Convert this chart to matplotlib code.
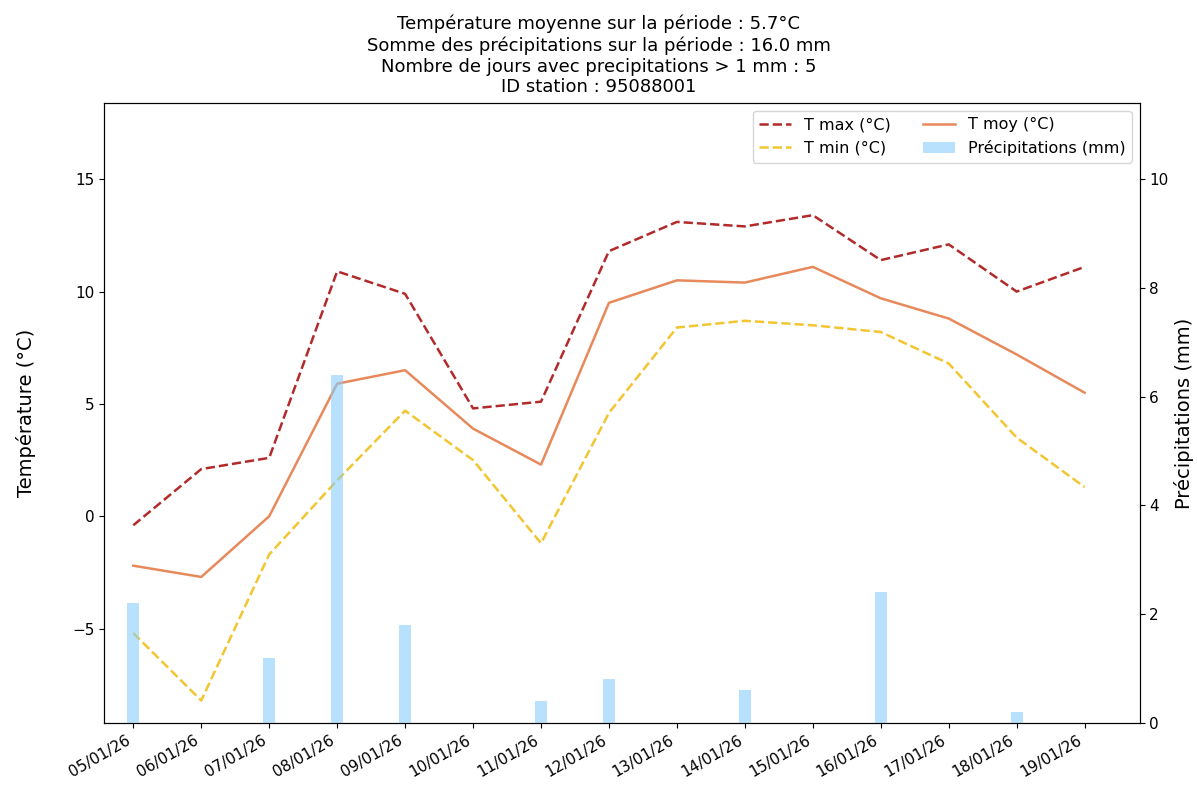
from datetime import datetime, timedelta

import matplotlib.dates as mdates
from matplotlib import pyplot as plt

DAYS = [datetime(2026, 1, d) for d in range(5, 20)]

T_MAX = [-0.4, 2.1, 2.6, 10.9, 9.9, 4.8, 5.1, 11.8, 13.1, 12.9, 13.4, 11.4, 12.1, 10.0, 11.1]
T_MOY = [-2.2, -2.7, 0.0, 5.9, 6.5, 3.9, 2.3, 9.5, 10.5, 10.4, 11.1, 9.7, 8.8, 7.2, 5.5]
T_MIN = [-5.2, -8.2, -1.7, 1.6, 4.7, 2.5, -1.2, 4.6, 8.4, 8.7, 8.5, 8.2, 6.8, 3.5, 1.3]
PRECIP = [2.2, 0.0, 1.2, 6.4, 1.8, 0.0, 0.4, 0.8, 0.0, 0.6, 0.0, 2.4, 0.0, 0.2, 0.0]

STATION_ID = "95088001"


def plot_station(out_path: str) -> None:
    fig, ax1 = plt.subplots(figsize=(11.97, 7.85), dpi=100)
    fig.subplots_adjust(left=0.087, right=0.952, bottom=0.079, top=0.869)

    l_max, = ax1.plot(DAYS, T_MAX, color="#b22a2a", linestyle="--", linewidth=1.8, label="T max (°C)")
    l_min, = ax1.plot(DAYS, T_MIN, color="#f2c531", linestyle="--", linewidth=1.8, label="T min (°C)")
    l_moy, = ax1.plot(DAYS, T_MOY, color="#e8895c", linewidth=1.8, label="T moy (°C)")
    ax1.set_ylabel("Température (°C)", fontsize=14, labelpad=26)
    ax1.set_ylim(min(T_MIN) - 1, max(T_MAX) + 5)

    ax2 = ax1.twinx()
    bars = ax2.bar(DAYS, PRECIP, width=0.18, color="lightskyblue", alpha=0.6, label="Précipitations (mm)")
    ax2.set_ylabel("Précipitations (mm)", fontsize=14)
    ax2.set_ylim(0, max(PRECIP) + 5)

    ax1.set_xlim(DAYS[0] - timedelta(hours=10.3), DAYS[-1] + timedelta(hours=19.4))
    ax1.xaxis.set_major_locator(mdates.DayLocator())
    ax1.xaxis.set_major_formatter(mdates.DateFormatter("%d/%m/%y"))
    ax1.tick_params(axis="x", labelsize=11)
    ax1.tick_params(axis="y", labelsize=11)
    ax2.tick_params(axis="y", labelsize=11)
    for lab in ax1.get_xticklabels():
        lab.set_rotation(30)
        lab.set_ha("right")

    ax1.legend(handles=[l_max, l_min, l_moy, bars], loc="upper right", ncol=2, fontsize=11.5)

    n_rain = sum(1 for p in PRECIP if p > 1)
    fig.suptitle(
        "Température moyenne sur la période : 5.7°C\n"
        f"Somme des précipitations sur la période : {sum(PRECIP):.1f} mm\n"
        f"Nombre de jours avec precipitations > 1 mm : {n_rain}\n"
        f"ID station : {STATION_ID}",
        fontsize=13,
        y=0.981,
    )

    fig.savefig(out_path, dpi=100)


if __name__ == "__main__":
    plot_station("out.png")
